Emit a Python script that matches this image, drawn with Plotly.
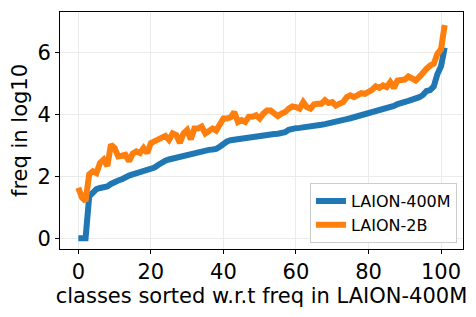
import plotly.graph_objects as go

x_vals = list(range(102))

laion_400m = [0, 0, 0, 1.35, 1.5, 1.58, 1.62, 1.65, 1.67, 1.75,
              1.82, 1.86, 1.9, 1.98, 2.02, 2.06, 2.1, 2.13, 2.15, 2.18,
              2.22, 2.28, 2.36, 2.45, 2.5, 2.54, 2.57, 2.6, 2.64, 2.67,
              2.7, 2.74, 2.78, 2.81, 2.83, 2.84, 2.85, 2.86, 2.88, 2.95,
              3.05, 3.12, 3.16, 3.18, 3.19, 3.2, 3.22, 3.25, 3.27, 3.29,
              3.3, 3.31, 3.33, 3.35, 3.36, 3.37, 3.38, 3.42, 3.5, 3.54,
              3.55, 3.56, 3.57, 3.59, 3.6, 3.62, 3.64, 3.66, 3.68, 3.7,
              3.72, 3.75, 3.78, 3.81, 3.84, 3.87, 3.9, 3.93, 3.96, 4.0,
              4.02, 4.05, 4.1, 4.14, 4.18, 4.21, 4.24, 4.27, 4.33, 4.38,
              4.4, 4.43, 4.47, 4.5, 4.55, 4.62, 4.75, 4.78, 4.9, 5.3,
              5.55, 6.15]

laion_2b = [1.63, 1.31, 1.2, 2.06, 2.16, 2.1, 2.43, 2.54, 2.33, 3.02,
            2.91, 2.64, 2.66, 2.69, 2.48, 2.73, 2.8, 2.75, 2.91, 2.75,
            3.07, 3.12, 3.17, 3.26, 3.3, 3.17, 3.38, 3.33, 3.07, 3.38,
            3.49, 3.19, 3.54, 3.54, 3.6, 3.38, 3.44, 3.54, 3.47, 3.7,
            3.86, 3.86, 3.9, 4.07, 3.75, 3.81, 3.75, 3.92, 3.92, 3.97,
            3.86, 4.02, 4.12, 4.12, 4.02, 3.94, 4.02, 4.07, 4.18, 4.25,
            4.23, 4.18, 4.39, 4.23, 4.18, 4.32, 4.34, 4.34, 4.45, 4.36,
            4.39, 4.28, 4.34, 4.39, 4.55, 4.61, 4.55, 4.61, 4.68, 4.66,
            4.71, 4.79, 4.9, 4.85, 4.93, 4.88, 5.04, 4.85, 5.09, 5.09,
            5.12, 5.22, 5.18, 5.09, 5.2, 5.36, 5.47, 5.57, 5.63, 5.95,
            6.1, 6.88]

x_ticks = [0, 20, 40, 60, 80, 100]
y_ticks = [0, 2, 4, 6]

font = "DejaVu Sans"

fig = go.Figure()
fig.add_trace(go.Scatter(x=x_vals, y=laion_400m, mode="lines", name="LAION-400M",
                         line=dict(color="#1f77b4", width=6)))
fig.add_trace(go.Scatter(x=x_vals, y=laion_2b, mode="lines", name="LAION-2B",
                         line=dict(color="#ff7f0e", width=6)))

axis_common = dict(showline=True, linecolor="black", linewidth=1, mirror=True,
                   ticks="outside", ticklen=4, tickcolor="black", tickwidth=1,
                   showgrid=True, gridcolor="#ebebeb", gridwidth=1,
                   zeroline=False, automargin=False,
                   tickfont=dict(family=font, size=21, color="black"))

fig.update_layout(
    width=476, height=317,
    margin=dict(l=60, r=13, t=12, b=68),
    paper_bgcolor="white", plot_bgcolor="white",
    font=dict(family=font, color="black"),
    xaxis=dict(range=[-5.05, 106.05], tickvals=x_ticks,
               title=dict(text="classes sorted w.r.t freq in LAION-400M",
                          font=dict(family=font, size=21), standoff=4),
               **axis_common),
    yaxis=dict(range=[-0.35, 7.3], tickvals=y_ticks,
               title=dict(text="freq in log10", font=dict(family=font, size=21), standoff=4),
               **axis_common),
    legend=dict(x=0.985, y=0.025, xanchor="right", yanchor="bottom",
                bgcolor="white", bordercolor="#cccccc", borderwidth=1,
                font=dict(family=font, size=16), tracegroupgap=0),
    showlegend=True,
)

fig.write_html("out.html",
               config={"displayModeBar": False},
               post_script="document.body.style.margin='0';document.body.style.overflow='hidden';")
